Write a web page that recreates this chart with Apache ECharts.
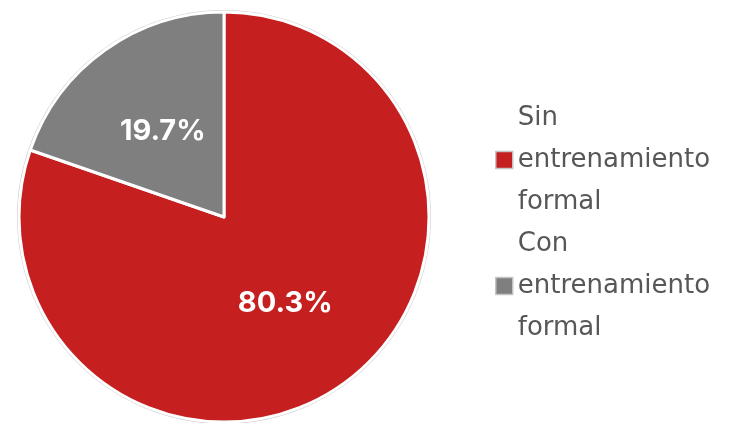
<!DOCTYPE html>
<html>
<head>
<meta charset="utf-8">
<script src="https://cdn.jsdelivr.net/npm/echarts@6/dist/echarts.min.js"></script>
<style>
  html, body { margin: 0; padding: 0; background: #fff; }
  #chart { width: 729px; height: 423px; }
</style>
</head>
<body>
<div id="chart"></div>
<script>
// Proporción de personas según su entrenamiento
const categories = ['Sin\nentrenamiento\nformal', 'Con\nentrenamiento\nformal'];
const values = [80.3, 19.7];
const colors = ['#C61F1F', '#7F7F7F'];

const LABEL_FONT = 'Inter, "Open Sans", sans-serif';
const LEGEND_FONT = '"DejaVu Sans", "Open Sans", sans-serif';
const center = [224, 217];

const chart = echarts.init(document.getElementById('chart'), null, { renderer: 'canvas' });

chart.setOption({
  animation: false,
  backgroundColor: '#ffffff',
  legend: {
    orient: 'vertical',
    left: 495,
    top: 97,
    padding: 0,
    itemWidth: 17,
    itemHeight: 17,
    itemGap: 0,
    icon: 'rect',
    itemStyle: { borderColor: '#c4c4c4', borderWidth: 1.5 },
    textStyle: {
      fontFamily: LEGEND_FONT,
      fontSize: 26,
      lineHeight: 42,
      color: '#575757'
    },
    data: categories
  },
  series: [
    {
      // thin outer ring around the pie
      type: 'pie',
      silent: true,
      center: center,
      radius: [0, 207],
      label: { show: false },
      labelLine: { show: false },
      itemStyle: { color: '#cccccc' },
      data: [{ value: 1, name: '' }],
      z: 1
    },
    {
      type: 'pie',
      center: center,
      radius: [0, 205],
      startAngle: 90,
      clockwise: true,
      itemStyle: { borderColor: '#ffffff', borderWidth: 3 },
      label: {
        show: true,
        position: 'inside',
        formatter: p => p.value.toFixed(1) + '%',
        color: '#ffffff',
        fontFamily: LABEL_FONT,
        fontWeight: 'bold',
        fontSize: 29
      },
      labelLine: { show: false },
      data: categories.map((c, i) => ({
        name: c,
        value: values[i],
        itemStyle: { color: colors[i] }
      })),
      z: 2
    }
  ]
});
</script>
</body>
</html>
